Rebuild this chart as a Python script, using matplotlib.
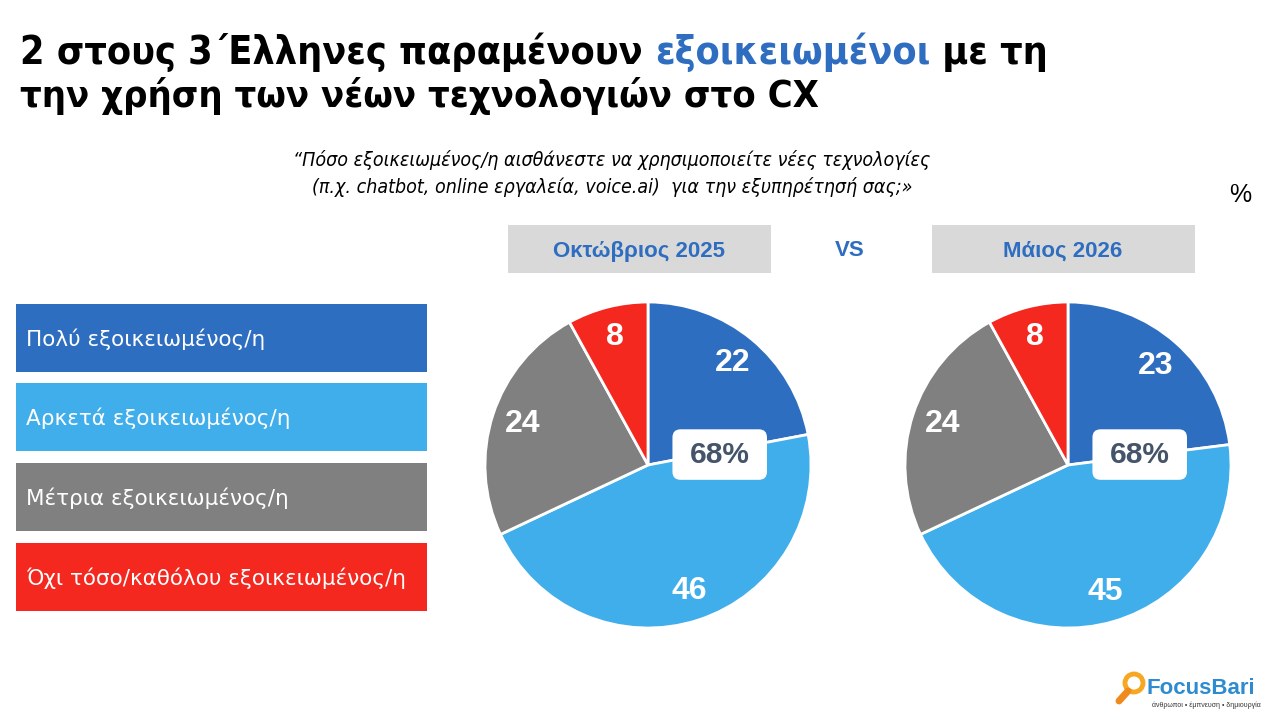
import matplotlib
matplotlib.use("Agg")
import matplotlib.pyplot as plt
from matplotlib import font_manager as fm
from matplotlib.patches import Rectangle, FancyBboxPatch, Circle
import numpy as np

# data
categories = ["Πολύ εξοικειωμένος/η", "Αρκετά εξοικειωμένος/η",
              "Μέτρια εξοικειωμένος/η", "Όχι τόσο/καθόλου εξοικειωμένος/η"]
periods = ["Οκτώβριος 2025", "Μάιος 2026"]
oct_2025 = [22, 46, 24, 8]
may_2026 = [23, 45, 24, 8]
familiar_total = ["68%", "68%"]

colors = ["#2E6EC0", "#41AEEC", "#808080", "#F4281F"]
BLUE = "#2E6DBF"

W, H = 1274, 714
fig = plt.figure(figsize=(W / 100, H / 100), dpi=100)
bg = fig.add_axes([0, 0, 1, 1])
bg.set_xlim(0, W)
bg.set_ylim(H, 0)
bg.axis("off")

names = {f.name for f in fm.fontManager.ttflist}
narrow = "Liberation Sans Narrow" if "Liberation Sans Narrow" in names else "DejaVu Sans"
arial = "Liberation Sans" if "Liberation Sans" in names else "DejaVu Sans"
body = "DejaVu Sans"

renderer = fig.canvas.get_renderer()


def rich_line(parts, x0, y, size, target_w, **kw):
    """ draw text pieces side by side, scaled to fit target width """
    texts = []
    for s, c in parts:
        texts.append(bg.text(0, y, s, color=c, fontsize=size, va="baseline", **kw))
    total = sum(t.get_window_extent(renderer).width for t in texts)
    size = size * target_w / total
    x = x0
    for t in texts:
        t.set_fontsize(size)
        t.set_x(x)
        x += t.get_window_extent(renderer).width
    return texts


# title
rich_line([("2 στους 3΄Ελληνες παραμένουν ", "black"), ("εξοικειωμένοι", BLUE), (" με τη", "black")],
          20, 64, 27, 1028, fontfamily=narrow, fontweight="heavy", fontstretch="condensed")
rich_line([("την χρήση των νέων τεχνολογιών στο CX", "black")],
          20, 107, 27, 798, fontfamily=narrow, fontweight="heavy", fontstretch="condensed")

# question
q1 = bg.text(612, 166, "“Πόσο εξοικειωμένος/η αισθάνεστε να χρησιμοποιείτε νέες τεχνολογίες",
             ha="center", va="baseline", fontsize=13, style="italic", fontfamily=narrow,
             fontstretch="condensed")
q2 = bg.text(612, 193, "(π.χ. chatbot, online εργαλεία, voice.ai)  για την εξυπηρέτησή σας;»",
             ha="center", va="baseline", fontsize=13, style="italic", fontfamily=narrow,
             fontstretch="condensed")
k = 635 / q1.get_window_extent(renderer).width
q1.set_fontsize(13 * k)
q2.set_fontsize(13 * k)

bg.text(1240, 195, "%", ha="center", va="center", fontsize=18, fontfamily=arial)

# period headers
for x0, label in zip([508, 932], periods):
    bg.add_patch(Rectangle((x0, 225), 263, 48, fc="#D9D9D9", ec="none"))
    bg.text(x0 + 131, 251, label, ha="center", va="center", color=BLUE,
            fontsize=16, fontweight="bold", fontfamily=arial)
bg.text(850, 250, "VS", ha="center", va="center", color=BLUE, fontsize=16,
        fontweight="bold", fontfamily=arial)

# legend boxes
for y0, lab, c in zip([304, 383, 463, 543], categories, colors):
    bg.add_patch(Rectangle((16, y0), 411, 68, fc=c, ec="none"))
    bg.text(26, y0 + 35, lab, ha="left", va="center", color="white", fontsize=15.5,
            fontfamily=body)


def draw_pie(cx, cy, values, total):
    r = 163
    lim = 1.05
    size = 2 * r * lim
    ax = fig.add_axes([(cx - r * lim) / W, 1 - (cy + r * lim) / H, size / W, size / H])
    wedges, _ = ax.pie(values, colors=colors, startangle=90, counterclock=False,
                       wedgeprops=dict(edgecolor="white", linewidth=2))
    ax.set_xlim(-lim, lim)
    ax.set_ylim(-lim, lim)
    ax.set_aspect("equal")
    for w, v in zip(wedges, values):
        ang = np.deg2rad((w.theta1 + w.theta2) / 2)
        ax.text(0.81 * np.cos(ang), 0.81 * np.sin(ang), str(v), ha="center", va="center",
                color="white", fontsize=23, fontweight="bold", fontfamily=arial)
    bx, by = 0.44, 0.064
    ax.add_patch(FancyBboxPatch((bx - 0.29, by - 0.155), 0.58, 0.31,
                                boxstyle="round,pad=0,rounding_size=0.05",
                                fc="white", ec="none", zorder=5))
    ax.text(bx, by, total, ha="center", va="center", color="#44546A", fontsize=21.5,
            fontweight="bold", fontfamily=arial, zorder=6)


draw_pie(648, 465, oct_2025, familiar_total[0])
draw_pie(1068, 465, may_2026, familiar_total[1])

# logo
bg.add_patch(Circle((1134, 683), 9, fc="none", ec="#F7A823", lw=3.5))
bg.plot([1128, 1119], [691, 701], color="#F08A1C", lw=5, solid_capstyle="round")
bg.text(1147, 689, "FocusBari", ha="left", va="center", color="#2E8BD0", fontsize=16,
        fontweight="bold", fontfamily=arial)
bg.text(1152, 705, "άνθρωποι • έμπνευση • δημιουργία", ha="left", va="center",
        color="#333333", fontsize=5, fontfamily=arial)

fig.savefig("out.png", dpi=100)
